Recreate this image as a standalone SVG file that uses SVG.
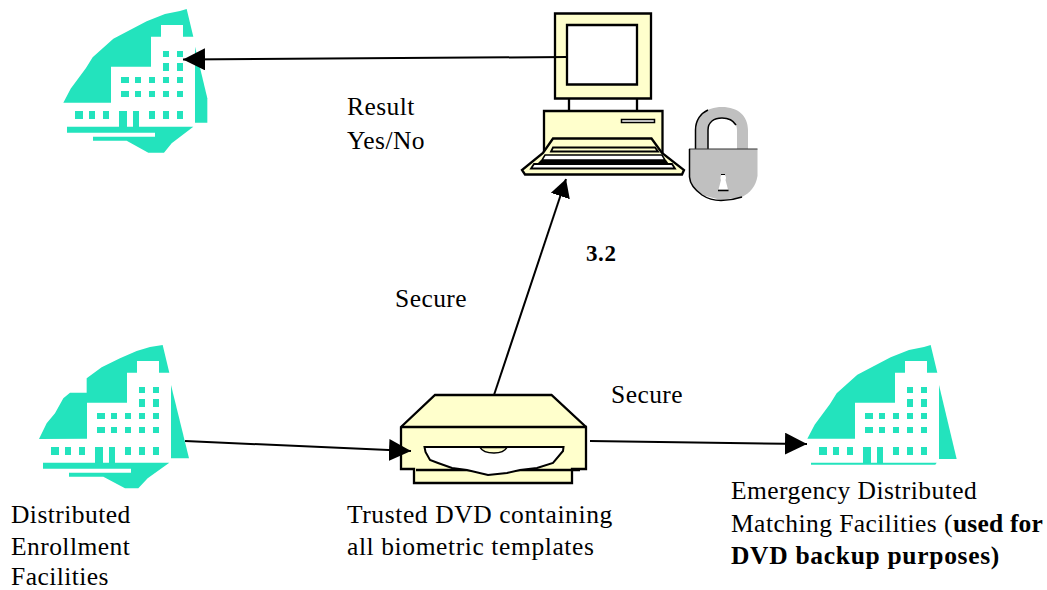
<svg xmlns="http://www.w3.org/2000/svg" width="1047" height="590" viewBox="0 0 1047 590">
<style>
text{font-family:"Liberation Serif","Times New Roman",serif;font-size:25.500px;letter-spacing:.45px;fill:#000}
.b{font-weight:bold;letter-spacing:.6px}
.s{letter-spacing:.6px}
.t{fill:#23e3bd}
.w{fill:#fff}
.k{fill:none;stroke:#000;stroke-width:2.300}
.y{fill:#ffffcc;stroke:#000;stroke-width:2.300}
.c{fill:none;stroke:#000;stroke-width:2}
.g{fill:#c0c0c0}
</style>
<defs>
<marker id="a" markerUnits="userSpaceOnUse" markerWidth="24" markerHeight="24" refX="22" refY="11" orient="auto"><path d="M0 0L22 11L0 22Z" fill="#000"/></marker>
<marker id="h" markerUnits="userSpaceOnUse" markerWidth="24" markerHeight="24" refX="18" refY="10" orient="auto"><path d="M0 0L18 10L0 20Z" fill="#000"/></marker>
<g id="bld">
<path class="w" d="M40 308H183V200H303V110H333V75H399V110H435V380H40Z"/>
<path class="t" d="M75 333h24v24h-24zM117 333h18v24h-18zM159 333h18v24h-18zM297 333h18v24h-18zM339 333h18v24h-18zM381 333h18v24h-18zM207 333h24v48h-24zM249 333h18v48h-18zM213 231h24v18h-24zM255 231h18v18h-18zM297 231h18v18h-18zM339 231h18v18h-18zM381 231h18v18h-18zM213 273h24v18h-24zM255 273h18v18h-18zM297 273h18v18h-18zM339 273h18v18h-18zM381 273h18v18h-18zM339 153h18v18h-18zM381 153h18v18h-18zM339 189h18v24h-18zM381 189h18v24h-18z"/>
</g>
</defs>
<g id="building-result" transform="translate(50 0) scale(.33333)">
<use href="#bld"/>
<path class="t" d="M40 308L62 266L108 204L128 172L190 116L290 64L345 42L390 33L410 27L430 110H399V75H333V110H303V200H183V308Z"/>
<path class="t" d="M435 140L472 295V368H435Z"/>
<path class="t" d="M51 380H430L365 430L342 458H295L230 422H129V410H315V398H51Z"/>
</g>
<g id="building-enrollment" transform="translate(26 336) scale(.33333)">
<use href="#bld"/>
<path class="t" d="M39 309L62 262L87 232L112 187L132 170H182V127L227 94L282 67L332 45L372 33L410 27L430 110H399V75H333V110H303V200H183V308Z"/>
<path class="t" d="M435 147L489 367H435Z"/>
<path class="t" d="M51 380H430L365 427L337 457H297L232 422H129V410H315V398H51Z"/>
</g>
<g id="building-emergency" transform="translate(794 336) scale(.33333)">
<use href="#bld"/>
<path class="t" d="M40 308L62 266L108 204L128 172L190 116L290 64L345 42L390 33L410 27L430 110H399V75H333V110H303V200H183V308Z"/>
<path class="t" d="M435 147L488 369H435Z"/>
<path class="t" d="M51 380H428L424 386H51Z"/>
</g>
<g id="computer">
<path class="y" d="M555 13.500H651V98.500H555Z"/>
<path class="w" d="M567 25H637V84.500H567Z" stroke="#000" stroke-width="2.300"/>
<path class="k" d="M569 98.500V110M637 98.500V110"/>
<path class="y" d="M544 111H662.500V155H544Z"/>
<path class="w" d="M621.500 119.500H654.500V122.500H621.500Z" stroke="#000" stroke-width="1.500"/>
<path class="y" d="M553 138.500H651.500L662 153L684 170L682 174.500H525L522 170L543 153Z"/>
<path d="M553 147.500H655L658 151.500H551Z" fill="#ffffcc" stroke="#000" stroke-width="1.800"/>
<path class="w" d="M545 155H662L665 160H542Z" stroke="#000" stroke-width="1.500"/>
<path d="M541 160H666L669 164H537Z" fill="#000"/>
<path class="w" d="M534 164H672L675 168.500H531Z" stroke="#000" stroke-width="1.800"/>
</g>
<g id="lock">
<path class="g" d="M695 150V130C695 116 706 107 722 107C738 107 748 116 748 130V150H737V130C737 122 731 118 722 118C714 118 708 122 708 130V150Z"/>
<path class="k" style="stroke-width:1.500" d="M695.500 149V130C695.500 120 701 113 708 110M708 149V130C708 122 714 118 722 118C729 118 733 120 736 125"/>
<path class="g" d="M689 149H757.500V176C756 186 750 193 742 197L721 200L702 195C694 190 689 184 689 177Z"/>
<path d="M689 149H757.500" fill="none" stroke="#333" stroke-width="1"/>
<path class="k" style="stroke-width:1.500" d="M689.500 149V177C690 184 695 190 702 195C708 199 714 200.500 721 200.500C728 200.500 736 199 742 197"/>
<path d="M723 174.500C726 174.500 726.500 178 725.500 180L728 189.500H718.500L721 180C720 178 720.500 174.500 723 174.500Z" fill="#fff"/>
<path d="M718 190.500H728.500" stroke="#000" stroke-width="1.500" fill="none"/>
<path d="M721 174.500H725" stroke="#000" stroke-width="1" fill="none"/>
</g>
<g id="dvd">
<path class="y" d="M401 427L435 395H551.500L586 427V469H572V483H414V469H401Z"/>
<path class="k" d="M401 427H587M416 470H580"/>
<path class="w" d="M424.500 447H563.500L563 451L553 463L537 468L520 470L507 473L488 475L467 470L452 468L438 463L430 460L425.500 452Z" stroke="#000" stroke-width="2"/>
<path d="M480 447.500C482 451 488 453 494 453C500 453 505 451 507 447.500Z" fill="#ffffcc" stroke="#000" stroke-width="1.500"/>
</g>
<g id="connectors">
<path class="c" d="M567 57L183 59.500" marker-end="url(#a)"/>
<path class="c" d="M494 395L566 179" marker-end="url(#h)"/>
<path class="c" d="M185 441L411 451" marker-end="url(#a)"/>
<path class="c" d="M590 441L807 444" marker-end="url(#a)"/>
</g>
<g id="labels">
<text x="347" y="115">Result</text>
<text x="347" y="149">Yes/No</text>
<text x="586" y="261" class="b" style="font-size:23px">3.2</text>
<text x="395" y="307">Secure</text>
<text x="611" y="403">Secure</text>
<text x="11" y="523">Distributed</text>
<text x="11" y="555">Enrollment</text>
<text x="11" y="584.500">Facilities</text>
<text x="347" y="523" class="s">Trusted DVD containing</text>
<text x="347" y="555" class="s">all biometric templates</text>
<text x="731" y="499">Emergency Distributed</text>
<text x="731" y="532">Matching Facilities (<tspan class="b" style="letter-spacing:.2px">used for</tspan></text>
<text x="731" y="564"><tspan class="b" style="letter-spacing:.7px">DVD backup purposes)</tspan></text>
</g>
</svg>
